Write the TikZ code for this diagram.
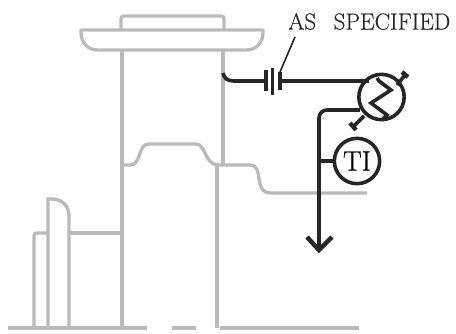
\documentclass[tikz,border=0pt]{standalone}
\usepackage{fontspec}
\newfontfamily\labfont[FakeBold=0.35]{Latin Modern Roman}
\begin{document}
\begin{tikzpicture}[x=0.75pt,y=-0.75pt,
  grayline/.style={draw=black!27,line width=2.5pt},
  blackline/.style={draw=black!85,line width=2.7pt},
  thinline/.style={draw=black!85,line width=1.2pt},
  instr/.style={circle,draw=black!85,line width=2.7pt,minimum size=34pt,inner sep=0pt,fill=white},
  lab/.style={inner sep=0pt,text=black!85}]
\useasboundingbox (0,0) rectangle (456,333);
% vessel (gray)
\draw[grayline,rounded corners=2pt] (121,29) -- (121,16) -- (224,16) -- (224,29);
\draw[grayline,line join=round] (81,32) -- (81,30) -- (263,30) -- (263,32) .. controls (263,43) and (256,50) .. (246,50) -- (98,50) .. controls (88,50) and (81,43) .. (81,32);
\draw[grayline] (122,50) -- (122,328);
\draw[grayline] (223,50) -- (223,165);
\draw[grayline] (217,165) -- (217,328);
\draw[grayline] (122,165) -- (130,165) .. controls (142,165) and (137,144) .. (149,144) -- (196,144) .. controls (206,144) and (204,165) .. (219,165) -- (250,165) .. controls (265,165) and (252,193) .. (271,193) -- (367,193);
\draw[grayline] (34,328) -- (34,236) .. controls (34,234) and (35,233) .. (37,233) -- (48,233);
\draw[grayline] (48,328) -- (48,199) -- (52,199) .. controls (62,199) and (69,206) .. (69,216) -- (69,328);
\draw[grayline] (69,233) -- (122,233);
\draw[grayline] (8,328) -- (147,328);
\draw[grayline] (172,328) -- (196,328);
\draw[grayline] (220,328) -- (359,328);
% instruments
\node[instr] (hx) at (381.5,97) {};
\node[instr] (ti) at (357,161) {\labfont\fontsize{21}{21}\selectfont TI};
\coordinate (start) at (223,73);
\coordinate (capl) at (266,81);
\coordinate (capr) at (280,81);
\coordinate (hxtop) at (369,81);
\coordinate (hxleft) at (360,110);
\coordinate (drop) at (319,250);
\coordinate (tap) at (319,161);
\draw[blackline] (start) .. controls (224,78) and (227,81) .. (234,81) -- (capl);
\draw[blackline] (capr) -- (hxtop);
\draw[blackline] (266,70) -- (266,91);
\draw[blackline] (272.5,68) -- (272.5,95);
\draw[blackline] (280,72) -- (280,90);
\draw[blackline,rounded corners=6pt] (hxleft) -- (319,110) -- (drop);
\draw[blackline,line width=3.4pt,line join=miter] (307,237) -- (drop) -- (332,237);
\draw[blackline] (tap) -- (ti.west);
% zigzag in exchanger
\draw[blackline,line join=miter] (377,78) -- (379,81) -- (391,90) -- (371,103) -- (387,115) -- (382,120);
% stubs
\coordinate (st1) at (397,85);
\coordinate (st1e) at (405,75);
\coordinate (st2) at (364,116);
\coordinate (st2e) at (354,126);
\draw[blackline] (st1) -- (st1e);
\draw[blackline,line width=3.2pt] (402,72) -- (408,77);
\draw[blackline] (st2) -- (st2e);
\draw[blackline,line width=3.2pt] (350,123) -- (356,130);
% label
\node[lab,anchor=west] (as) at (288,21.5) {\labfont\fontsize{17.4}{18}\selectfont AS\hspace{0.45em} SPECIFIED};
\coordinate (lead) at (280,72);
\draw[thinline] (295,37) -- (lead);
\end{tikzpicture}
\end{document}
